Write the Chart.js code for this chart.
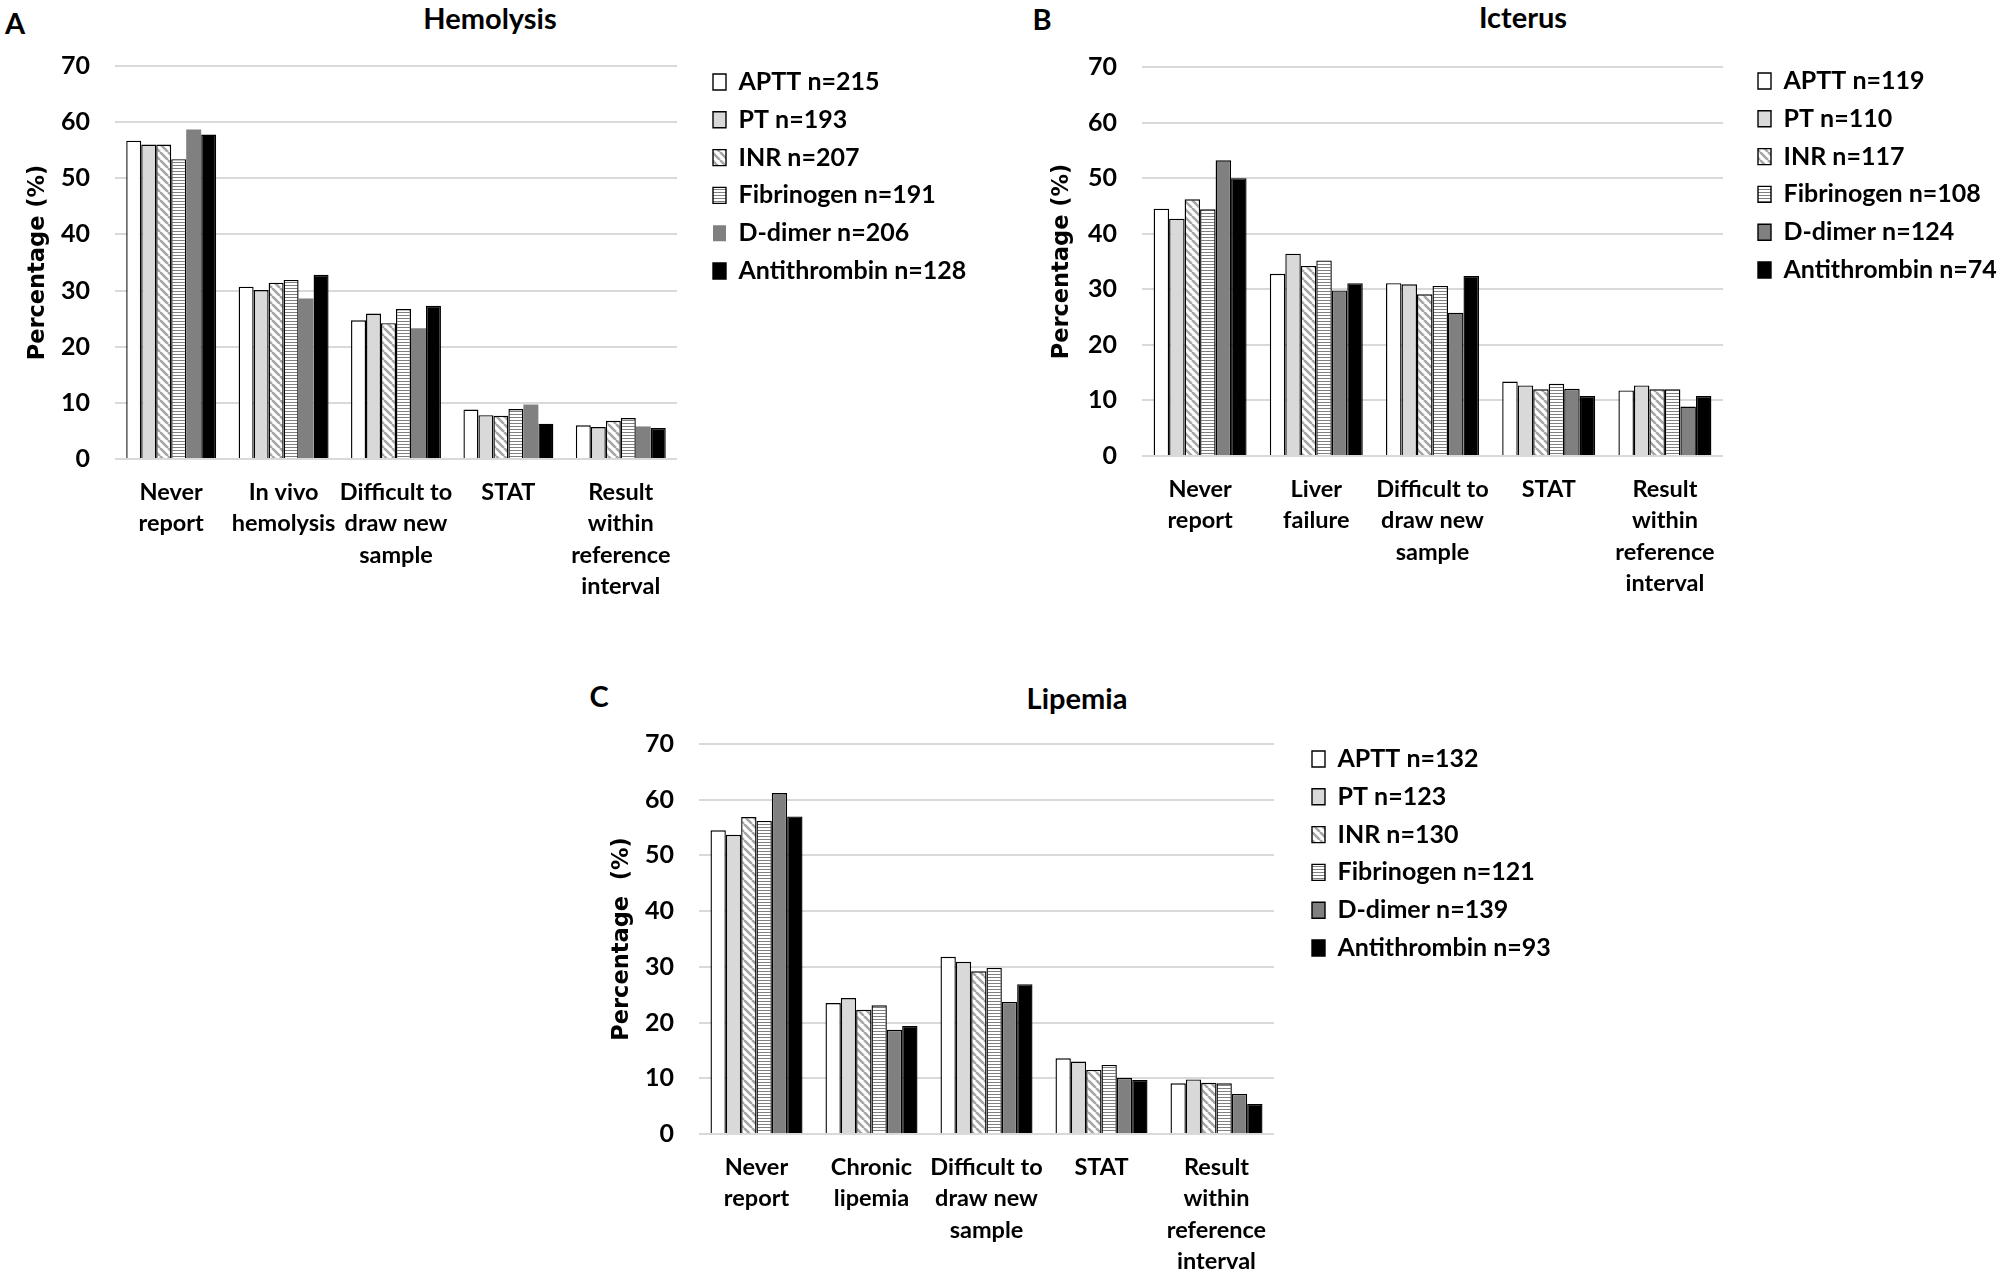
<!DOCTYPE html>
<html><head><meta charset="utf-8">
<script src="https://cdn.jsdelivr.net/npm/chart.js@4.4.0/dist/chart.umd.min.js"></script>
<style>
html,body{margin:0;padding:0;background:#fff;}
body{width:2001px;height:1276px;position:relative;overflow:hidden;font-family:Lato,sans-serif;}
canvas{position:absolute;}
.lbl{position:absolute;transform:translate(-50%,-50%);font-weight:700;color:#000;white-space:nowrap;line-height:1;font-family:Lato,sans-serif;}
</style></head><body>
<div class="lbl" style="left:15px;top:22px;font-size:29px">A</div>
<div class="lbl" style="left:490px;top:17px;font-size:29px">Hemolysis</div>
<div class="lbl" style="left:1042px;top:18px;font-size:29px">B</div>
<div class="lbl" style="left:1523px;top:16px;font-size:29px">Icterus</div>
<div class="lbl" style="left:599px;top:695px;font-size:29px">C</div>
<div class="lbl" style="left:1077px;top:697px;font-size:29px">Lipemia</div>
<canvas id="cA" width="1200" height="620" style="left:0px;top:0px;width:1200px;height:620px"></canvas>
<canvas id="cB" width="1001" height="620" style="left:1000px;top:0px;width:1001px;height:620px"></canvas>
<canvas id="cC" width="1200" height="596" style="left:560px;top:680px;width:1200px;height:596px"></canvas>
<script>
// ---- data ----
const seriesNames = ["APTT", "PT", "INR", "Fibrinogen", "D-dimer", "Antithrombin"];
const yTicks = [0, 10, 20, 30, 40, 50, 60, 70];

const hemolysisCategories = [["Never", "report"], ["In vivo", "hemolysis"], ["Difficult to", "draw new", "sample"], "STAT", ["Result", "within", "reference", "interval"]];
const hemolysisN = [215, 193, 207, 191, 206, 128];
const hemolysisAPTT = [56.7, 30.7, 24.7, 8.8, 6.0];
const hemolysisPT = [56.0, 30.1, 25.9, 7.8, 5.7];
const hemolysisINR = [56.0, 31.4, 24.2, 7.7, 6.8];
const hemolysisFib = [53.4, 31.9, 26.7, 8.9, 7.3];
const hemolysisDdimer = [58.7, 28.6, 23.3, 9.7, 5.8];
const hemolysisAT = [57.8, 32.8, 27.3, 6.3, 5.5];

const icterusCategories = [["Never", "report"], ["Liver", "failure"], ["Difficult to", "draw new", "sample"], "STAT", ["Result", "within", "reference", "interval"]];
const icterusN = [119, 110, 117, 108, 124, 74];
const icterusAPTT = [44.5, 32.8, 31.1, 13.4, 11.8];
const icterusPT = [42.7, 36.4, 30.9, 12.7, 12.7];
const icterusINR = [46.2, 34.2, 29.1, 12.0, 12.0];
const icterusFib = [44.4, 35.2, 30.6, 13.0, 12.0];
const icterusDdimer = [53.2, 29.8, 25.8, 12.1, 8.9];
const icterusAT = [50.0, 31.1, 32.4, 10.8, 10.8];

const lipemiaCategories = [["Never", "report"], ["Chronic", "lipemia"], ["Difficult to", "draw new", "sample"], "STAT", ["Result", "within", "reference", "interval"]];
const lipemiaN = [132, 123, 130, 121, 139, 93];
const lipemiaAPTT = [54.5, 23.5, 31.8, 13.6, 9.1];
const lipemiaPT = [53.7, 24.4, 30.9, 13.0, 9.8];
const lipemiaINR = [56.9, 22.3, 29.2, 11.5, 9.2];
const lipemiaFib = [56.2, 23.1, 29.8, 12.4, 9.1];
const lipemiaDdimer = [61.2, 18.7, 23.7, 10.1, 7.2];
const lipemiaAT = [57.0, 19.4, 26.9, 9.7, 5.4];

// ---- styling helpers ----
function diagPattern(ctx) {
  const c = document.createElement('canvas'); c.width = 8; c.height = 8;
  const g = c.getContext('2d');
  g.fillStyle = '#ffffff'; g.fillRect(0, 0, 8, 8);
  g.strokeStyle = '#a6a6a6'; g.lineWidth = 2.6;
  g.beginPath();
  for (let o = -8; o <= 8; o += 8) { g.moveTo(o, 0); g.lineTo(o + 8, 8); }
  g.stroke();
  return ctx.createPattern(c, 'repeat');
}
function horizPattern(ctx) {
  const c = document.createElement('canvas'); c.width = 4; c.height = 3;
  const g = c.getContext('2d');
  g.fillStyle = '#ffffff'; g.fillRect(0, 0, 4, 3);
  g.fillStyle = '#808080'; g.fillRect(0, 0, 4, 1);
  return ctx.createPattern(c, 'repeat');
}

const TXT = 'Lato, sans-serif';
const LEG_SIZE = 25, LEG_PAD = 12.8;

function makePanel(id, categories, nArr, values, geom, ddimerBorder, yTitle) {
  const canvas = document.getElementById(id);
  const ctx = canvas.getContext('2d');
  const fills = ['#ffffff', '#d9d9d9', diagPattern(ctx), horizPattern(ctx), '#808080', '#000000'];
  const datasets = seriesNames.map((nm, i) => ({
    label: nm + ' n=' + nArr[i],
    data: values[i],
    backgroundColor: fills[i],
    borderColor: '#000000',
    borderWidth: (i === 4 && !ddimerBorder) ? 0 : 1.4,
    categoryPercentage: 0.8,
    barPercentage: 1.0
  }));
  const legendPlace = {
    id: 'legendPlace',
    afterLayout(chart) {
      const lg = chart.legend;
      if (!lg) return;
      const dx = (geom.legX - LEG_PAD) - lg.left;
      const dy = (geom.legY - LEG_PAD - LEG_SIZE / 2) - lg.top;
      lg.left += dx; lg.right += dx; lg.top += dy; lg.bottom += dy;
    }
  };
  const chart = new Chart(ctx, {
    type: 'bar',
    data: { labels: categories, datasets },
    options: {
      responsive: false, animation: false, devicePixelRatio: 1,
      layout: { padding: { left: 0, top: geom.top, right: 20, bottom: 0 } },
      plugins: {
        legend: {
          position: 'right', align: 'start', maxWidth: 500,
          labels: { font: { family: TXT, weight: 'bold', size: LEG_SIZE }, color: '#000', boxWidth: 13, boxHeight: 16, padding: LEG_PAD }
        },
        tooltip: { enabled: false },
        title: { display: false }
      },
      scales: {
        x: {
          grid: { display: false, drawTicks: false },
          border: { display: false },
          ticks: { font: { family: TXT, weight: 'bold', size: 23.5, lineHeight: 1.33 }, color: '#000', padding: 18, maxRotation: 0, minRotation: 0, autoSkip: false },
          afterFit(s) { s.height = geom.H - geom.bottom; }
        },
        y: {
          min: yTicks[0], max: yTicks[yTicks.length - 1],
          afterBuildTicks(s) { s.ticks = yTicks.map(v => ({ value: v })); },
          ticks: { font: { family: TXT, weight: 'bold', size: 25 }, color: '#000', padding: 25 },
          grid: { color: '#d9d9d9', lineWidth: 2, drawTicks: false },
          border: { display: false },
          title: { display: true, text: yTitle, font: { family: 'DejaVu Sans', weight: 'bold', size: 22.5 }, color: '#000', padding: { top: geom.ytPad, bottom: 0 } },
          afterFit(s) { s.width = geom.left; }
        }
      }
    },
    plugins: [legendPlace]
  });
  const d = chart.chartArea.right - geom.right;
  chart.options.layout.padding.right += d;
  chart.update();
  return chart;
}

makePanel('cA', hemolysisCategories, hemolysisN,
  [hemolysisAPTT, hemolysisPT, hemolysisINR, hemolysisFib, hemolysisDdimer, hemolysisAT],
  { H: 620, left: 115, top: 66, bottom: 459, right: 677, ytPad: 24.5, legX: 713, legY: 82 }, false, 'Percentage (%)');

makePanel('cB', icterusCategories, icterusN,
  [icterusAPTT, icterusPT, icterusINR, icterusFib, icterusDdimer, icterusAT],
  { H: 620, left: 142, top: 67, bottom: 456, right: 723, ytPad: 48.5, legX: 758, legY: 81 }, true, 'Percentage (%)');

makePanel('cC', lipemiaCategories, lipemiaN,
  [lipemiaAPTT, lipemiaPT, lipemiaINR, lipemiaFib, lipemiaDdimer, lipemiaAT],
  { H: 596, left: 139, top: 64, bottom: 454, right: 714, ytPad: 48.5, legX: 752, legY: 79 }, true, 'Percentage  (%)');
</script>
</body></html>
